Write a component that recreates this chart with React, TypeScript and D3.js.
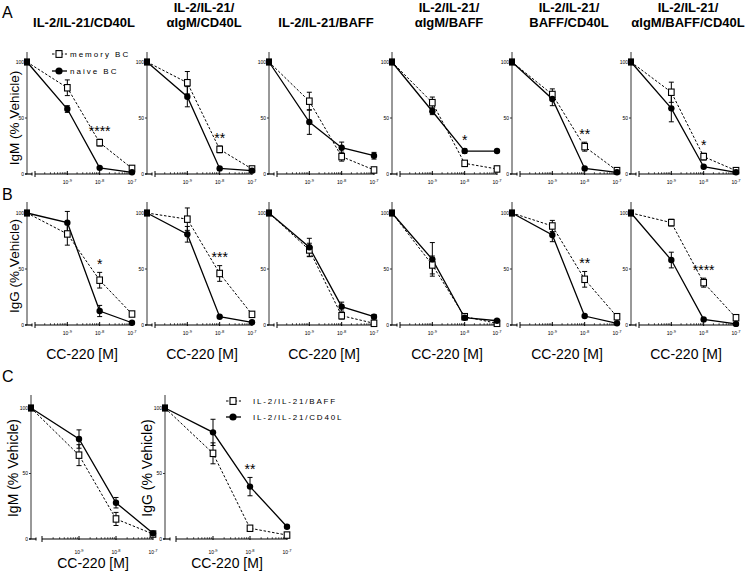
import React from "react";
import * as d3 from "d3";

// ---------- data ----------
const concentrations = [1e-9, 1e-8, 1e-7];
const tickExponents = ["-9", "-8", "-7"];
const yTicks = [0, 50, 100];
const vehicleValue = 100;

const panelTitles = [
  ["IL-2/IL-21/CD40L"],
  ["IL-2/IL-21/", "αIgM/CD40L"],
  ["IL-2/IL-21/BAFF"],
  ["IL-2/IL-21/", "αIgM/BAFF"],
  ["IL-2/IL-21/", "BAFF/CD40L"],
  ["IL-2/IL-21/", "αIgM/BAFF/CD40L"],
];

const legendAB = ["memory BC", "naive BC"];
const legendC = ["IL-2/IL-21/BAFF", "IL-2/IL-21/CD40L"];

const igmMemory = [[77, 28, 5], [81.5, 22, 4.5], [65, 15.5, 3.6], [63.7, 9.5, 4.5], [71, 24.4, 3], [73, 15.5, 3]];
const igmMemoryErr = [[7, 3, 2], [10, 3, 1], [8, 4, 1], [5, 2, 1], [5, 4, 1], [9, 3, 1]];
const igmNaive = [[58, 5.5, 1.5], [69, 5, 3], [46.4, 23.5, 16.3], [56, 20.5, 20.5], [67, 5, 1.5], [58.6, 6.5, 1.5]];
const igmNaiveErr = [[3, 1, 1], [9, 1, 1], [11, 5, 3], [3, 2, 0], [6, 1, 1], [12, 1, 1]];
const igmStars = ["****", "**", "", "*", "**", "*"];

const iggMemory = [[81.3, 40, 9.8], [94.5, 46, 9.5], [67, 8.3, 1.5], [53.6, 7.4, 1.5], [88.4, 40.8, 7.4], [91.4, 37.8, 6.5]];
const iggMemoryErr = [[10, 7, 2], [10, 7, 2], [6, 3, 1], [8, 2, 1], [5, 7, 2], [3, 4, 2]];
const iggNaive = [[91.4, 12.5, 2], [81, 7.4, 2.4], [69.4, 16.4, 7.4], [58.6, 6.5, 3.8], [80.4, 8, 1.5], [58, 5, 1]];
const iggNaiveErr = [[10, 5, 1], [7, 1, 1], [8, 4, 2], [15, 1, 1], [6, 1, 1], [7, 1, 1]];
const iggStars = ["*", "***", "", "", "**", "****"];

const cIgmBaff = [64, 15.3, 3.8];
const cIgmBaffErr = [8, 5, 1];
const cIgmCd40l = [76.3, 27.7, 4.3];
const cIgmCd40lErr = [7, 4, 1];
const cIggBaff = [65.4, 8.2, 3];
const cIggBaffErr = [8, 2, 1];
const cIggCd40l = [81.4, 40, 9.4];
const cIggCd40lErr = [10, 7, 1];
const cStars = ["", "**"];

// ---------- layout ----------
const FONT = "'Liberation Sans', Arial, Helvetica, sans-serif";
const panelXAB = [27, 147, 269, 392, 512, 631];
const panelXC = [31, 165];

type PanelProps = {
  px: number;
  axisY: number;
  topY: number;
  y100: number;
  xStart: number;
  xEnd: number;
  dashed: number[];
  dashedErr: number[];
  solid: number[];
  solidErr: number[];
  star: string;
  tickLabelDy: number;
};

function Panel(p: PanelProps) {
  const x = d3.scaleLog().domain([1e-10, 1e-7]).range([p.px + p.xStart, p.px + p.xEnd]);
  const y = d3.scaleLinear().domain([0, 100]).range([p.axisY, p.y100]);
  const line = d3
    .line<[number, number]>()
    .x((d) => d[0])
    .y((d) => d[1]);

  const pts = (vals: number[]) =>
    [[p.px, y(vehicleValue)] as [number, number]].concat(
      vals.map((v, i) => [x(concentrations[i]), y(v)] as [number, number])
    );

  const minor: number[] = [];
  [1e-10, 1e-9, 1e-8].forEach((d) => {
    for (let k = 2; k <= 9; k++) minor.push(k * d);
  });

  const errBars = (vals: number[], errs: number[], key: string) =>
    vals.map((v, i) =>
      errs[i] > 0 ? (
        <g key={key + i} stroke="#000" strokeWidth={1}>
          <line x1={x(concentrations[i])} x2={x(concentrations[i])} y1={y(v - errs[i])} y2={y(v + errs[i])} />
          <line x1={x(concentrations[i]) - 2.5} x2={x(concentrations[i]) + 2.5} y1={y(v + errs[i])} y2={y(v + errs[i])} />
          <line x1={x(concentrations[i]) - 2.5} x2={x(concentrations[i]) + 2.5} y1={y(v - errs[i])} y2={y(v - errs[i])} />
        </g>
      ) : null
    );

  const starTop = Math.max(
    p.dashed[1] + p.dashedErr[1],
    p.solid[1] + p.solidErr[1]
  );

  return (
    <g>
      {/* y axis */}
      <line x1={p.px} x2={p.px} y1={p.topY} y2={p.axisY} stroke="#333" strokeWidth={1} />
      {yTicks.map((t) => (
        <g key={"yt" + t}>
          <line x1={p.px - 2} x2={p.px} y1={y(t)} y2={y(t)} stroke="#333" strokeWidth={1} />
          <text x={p.px - 3} y={y(t) + 1.8} fontSize={5} textAnchor="end" fontFamily={FONT} fill="#000">
            {t}
          </text>
        </g>
      ))}
      {/* vehicle axis segment */}
      <line x1={p.px - 2} x2={p.px + 5} y1={p.axisY} y2={p.axisY} stroke="#000" strokeWidth={1.2} />
      <line x1={p.px + 5} x2={p.px + 5} y1={p.axisY - 1.5} y2={p.axisY + 1.5} stroke="#000" strokeWidth={1} />
      {/* main x axis */}
      <line x1={x(1e-10)} x2={x(1e-7)} y1={p.axisY} y2={p.axisY} stroke="#000" strokeWidth={1.2} />
      <line x1={x(1e-10)} x2={x(1e-10)} y1={p.axisY - 3} y2={p.axisY + 3} stroke="#000" strokeWidth={1} />
      {minor.map((m, i) => (
        <line key={"mn" + i} x1={x(m)} x2={x(m)} y1={p.axisY - 1.8} y2={p.axisY} stroke="#000" strokeWidth={0.7} />
      ))}
      {concentrations.map((c, i) => (
        <g key={"xt" + i}>
          <line x1={x(c)} x2={x(c)} y1={p.axisY - 3} y2={p.axisY + 1} stroke="#000" strokeWidth={1} />
          <text x={x(c)} y={p.axisY + p.tickLabelDy} fontSize={5} textAnchor="middle" fontFamily={FONT} fill="#000">
            10
            <tspan dy={-2} fontSize={4}>
              {tickExponents[i]}
            </tspan>
          </text>
        </g>
      ))}
      {/* lines */}
      <path d={line(pts(p.dashed)) || ""} fill="none" stroke="#000" strokeWidth={1} strokeDasharray="2.5,1.8" />
      <path d={line(pts(p.solid)) || ""} fill="none" stroke="#000" strokeWidth={1.3} />
      {errBars(p.dashed, p.dashedErr, "de")}
      {errBars(p.solid, p.solidErr, "se")}
      {/* markers */}
      {p.dashed.map((v, i) => (
        <rect
          key={"sq" + i}
          x={x(concentrations[i]) - 2.8}
          y={y(v) - 3.2}
          width={5.6}
          height={6.4}
          fill="#fff"
          stroke="#000"
          strokeWidth={1.1}
        />
      ))}
      {p.solid.map((v, i) => (
        <circle key={"ci" + i} cx={x(concentrations[i])} cy={y(v)} r={3.2} fill="#000" />
      ))}
      {/* vehicle marker */}
      <rect x={p.px - 3} y={y(vehicleValue) - 3.6} width={6} height={7.2} fill="#000" />
      {p.star ? (
        <text
          x={x(concentrations[1])}
          y={y(starTop) - 3.5}
          fontSize={14}
          textAnchor="middle"
          fontFamily={FONT}
          fill="#000"
        >
          {p.star}
        </text>
      ) : null}
    </g>
  );
}

function LegendItem({ x0, y0, dashed, label, spacing, gap }: { x0: number; y0: number; dashed: boolean; label: string; spacing: number; gap: number }) {
  return (
    <g>
      <line
        x1={x0 - 7}
        x2={x0 + 8}
        y1={y0}
        y2={y0}
        stroke="#000"
        strokeWidth={dashed ? 1 : 1.3}
        strokeDasharray={dashed ? "2.5,1.8" : undefined}
      />
      {dashed ? (
        <rect x={x0 - 3} y={y0 - 3.4} width={6} height={6.8} fill="#fff" stroke="#000" strokeWidth={1.1} />
      ) : (
        <circle cx={x0} cy={y0} r={3.6} fill="#000" />
      )}
      <text x={x0 + gap} y={y0 + 2.8} fontSize={8} fontFamily={FONT} letterSpacing={spacing} fill="#000">
        {label}
      </text>
    </g>
  );
}

export default function App() {
  return (
    <svg
      width={750}
      height={573}
      viewBox="0 0 750 573"
      style={{ position: "absolute", left: 0, top: 0, background: "#fff" }}
    >
      <rect x={0} y={0} width={750} height={573} fill="#fff" />
      {/* panel letters */}
      <text x={2} y={18} fontSize={16} fontFamily={FONT}>A</text>
      <text x={2} y={200} fontSize={16} fontFamily={FONT}>B</text>
      <text x={2} y={382} fontSize={16} fontFamily={FONT}>C</text>

      {/* titles */}
      {panelTitles.map((t, i) => (
        <text key={"t" + i} x={panelXAB[i] + 57} textAnchor="middle" fontSize={13} fontWeight="bold" fontFamily={FONT}>
          {t.length === 1 ? (
            <tspan x={panelXAB[i] + 57} y={27}>{t[0]}</tspan>
          ) : (
            <>
              <tspan x={panelXAB[i] + 57} y={11.5}>{t[0]}</tspan>
              <tspan x={panelXAB[i] + 57} y={27}>{t[1]}</tspan>
            </>
          )}
        </text>
      ))}

      {/* Row A */}
      {panelXAB.map((px, i) => (
        <Panel
          key={"A" + i}
          px={px}
          axisY={174}
          topY={52}
          y100={62}
          xStart={8}
          xEnd={105}
          dashed={igmMemory[i]}
          dashedErr={igmMemoryErr[i]}
          solid={igmNaive[i]}
          solidErr={igmNaiveErr[i]}
          star={igmStars[i]}
          tickLabelDy={10}
        />
      ))}
      {/* Row B */}
      {panelXAB.map((px, i) => (
        <Panel
          key={"B" + i}
          px={px}
          axisY={325}
          topY={202}
          y100={213}
          xStart={8}
          xEnd={105}
          dashed={iggMemory[i]}
          dashedErr={iggMemoryErr[i]}
          solid={iggNaive[i]}
          solidErr={iggNaiveErr[i]}
          star={iggStars[i]}
          tickLabelDy={10}
        />
      ))}
      {panelXAB.map((px, i) => (
        <text key={"xl" + i} x={px + 55} y={359} textAnchor="middle" fontSize={14} fontFamily={FONT}>
          CC-220 [M]
        </text>
      ))}
      <text transform="translate(19,118) rotate(-90)" textAnchor="middle" fontSize={13.5} fontFamily={FONT}>
        IgM (% Vehicle)
      </text>
      <text transform="translate(19,266) rotate(-90)" textAnchor="middle" fontSize={13.5} fontFamily={FONT}>
        IgG (% Vehicle)
      </text>
      <LegendItem x0={59} y0={54} dashed={true} label={legendAB[0]} spacing={2} gap={11} />
      <LegendItem x0={59} y0={71} dashed={false} label={legendAB[1]} spacing={2} gap={11} />

      {/* Row C */}
      <Panel
        px={panelXC[0]}
        axisY={539}
        topY={395}
        y100={408}
        xStart={11}
        xEnd={122}
        dashed={cIgmBaff}
        dashedErr={cIgmBaffErr}
        solid={cIgmCd40l}
        solidErr={cIgmCd40lErr}
        star={cStars[0]}
        tickLabelDy={15}
      />
      <Panel
        px={panelXC[1]}
        axisY={539}
        topY={395}
        y100={408}
        xStart={11}
        xEnd={122}
        dashed={cIggBaff}
        dashedErr={cIggBaffErr}
        solid={cIggCd40l}
        solidErr={cIggCd40lErr}
        star={cStars[1]}
        tickLabelDy={15}
      />
      {panelXC.map((px, i) => (
        <text key={"xc" + i} x={px + 62} y={568} textAnchor="middle" fontSize={14} fontFamily={FONT}>
          CC-220 [M]
        </text>
      ))}
      <text transform="translate(18,468) rotate(-90)" textAnchor="middle" fontSize={14} fontFamily={FONT}>
        IgM (% Vehicle)
      </text>
      <text transform="translate(152,468) rotate(-90)" textAnchor="middle" fontSize={14} fontFamily={FONT}>
        IgG (% Vehicle)
      </text>
      <LegendItem x0={233} y0={401} dashed={true} label={legendC[0]} spacing={1.8} gap={20} />
      <LegendItem x0={233} y0={417} dashed={false} label={legendC[1]} spacing={1.8} gap={20} />
    </svg>
  );
}
